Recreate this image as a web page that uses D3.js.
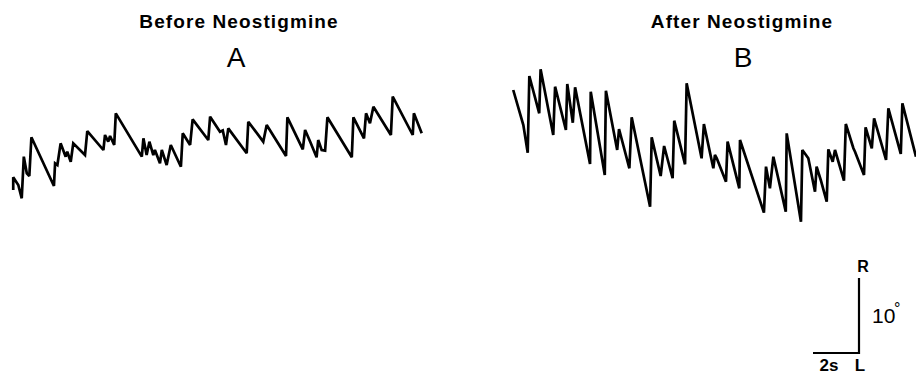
<!DOCTYPE html>
<html>
<head>
<meta charset="utf-8">
<script src="https://cdn.jsdelivr.net/npm/d3@7"></script>
<style>
  body { margin: 0; background: #fff; }
  svg { display: block; font-family: "Liberation Sans", Arial, sans-serif; }
</style>
</head>
<body>
<div id="chart"></div>
<script>
// eye position traces: time (s) and position (deg, right = up)
const timeA = [0.01, 0.01, 0.23, 0.38, 0.47, 0.60, 0.71, 0.80, 1.78, 1.83, 1.93, 2.07, 2.29, 2.36, 2.51, 2.62,
  3.13, 3.23, 3.93, 4.00, 4.14, 4.22, 4.40, 4.47, 5.60, 5.67, 5.81, 5.93, 6.10, 6.17, 6.39, 6.47,
  6.68, 6.86, 7.30, 7.38, 7.70, 7.81, 8.49, 8.57, 9.00, 9.12, 9.26, 9.36, 10.16, 10.23, 10.88, 11.03,
  11.87, 11.93, 12.60, 12.70, 12.94, 13.20, 13.27, 13.42, 13.57, 13.67, 14.73, 14.80, 15.26, 15.35,
  15.52, 15.67, 16.43, 16.51, 17.38, 17.43, 17.77];
const posA = [-5.33, -3.64, -4.67, -6.44, -0.89, -3.11, -3.47, 1.70, -4.80, -1.77, -2.00, 0.89, -0.89, -0.23, -1.56, 0.89,
  -0.67, 2.53, 0.00, 2.00, 1.11, 1.87, 0.67, 4.89, -0.89, 1.56, -0.67, 1.11, -0.67, 0.00, -1.77, 0.00,
  -2.00, 0.67, -2.23, 2.23, 0.67, 4.09, 1.33, 4.44, 2.44, 2.60, 0.67, 2.89, -0.44, 3.77, 1.11, 3.33,
  -0.80, 4.36, 0.09, 2.67, 0.97, -0.97, 1.33, 0.00, -0.09, 4.36, -0.97, 4.36, 1.56, 4.89,
  3.56, 5.77, 2.00, 7.11, 2.00, 4.89, 2.23];

const timeB = [0.01, 0.45, 0.64, 0.71, 1.14, 1.20, 1.75, 1.83, 2.30, 2.36, 2.60, 2.70, 3.35, 3.38, 3.99,
  4.04, 4.53, 4.61, 5.06, 5.16, 5.96, 6.03, 6.42, 6.57, 6.94, 7.01, 7.48, 7.55, 8.20, 8.30, 8.71,
  8.78, 8.86, 9.26, 9.33, 9.84, 9.87, 10.91, 11.00, 11.17, 11.32, 11.86, 11.90, 12.52, 12.58, 12.84,
  13.13, 13.20, 13.38, 13.64, 13.71, 13.90, 14.00, 14.39, 14.47, 14.80, 14.87, 15.26, 15.33, 15.60,
  15.70, 16.22, 16.32, 16.86, 16.93, 17.52];
const posB = [8.00, 3.33, -0.36, 9.87, 4.89, 10.76, 2.00, 8.44, 2.67, 8.80, 3.64, 8.36, -1.87, 7.77, -3.33,
  7.91, 0.00, 2.80, -2.44, 4.36, -7.56, 1.69, -3.47, 0.53, -3.77, 3.91, -1.91, 8.89, -1.11, 3.47, -2.44,
  -0.67, -1.11, -4.22, 1.11, -5.11, 1.33, -8.36, -2.22, -5.11, -0.89, -8.22, 2.22, -9.56, 0.00, -1.11,
  -5.56, -2.22, -4.00, -6.89, 0.09, -1.56, 0.00, -4.09, 3.47, 0.23, -0.23, -3.33, 3.03, 0.23,
  4.23, -1.33, 5.56, -0.53, 6.23, -0.89];

const panels = [
  { title: "Before Neostigmine", letter: "A", time: timeA, pos: posA, left: 13 },
  { title: "After Neostigmine", letter: "B", time: timeB, pos: posB, left: 513 }
];

// calibration bar: 2 s by 10 deg
const barSeconds = 2;
const barDegrees = 10;

const W = 916, H = 386;
const pxPerSecond = 23;

const svg = d3.select("#chart").append("svg")
  .attr("width", W)
  .attr("height", H);

const y = d3.scaleLinear().domain([-10, 10]).range([225, 75]);

panels.forEach(function (p, i) {
  const x = d3.scaleLinear().domain([0, 18]).range([p.left, p.left + 18 * pxPerSecond]);
  const pts = p.time.map((t, j) => [t, p.pos[j]]);

  const line = d3.line()
    .x(d => x(d[0]))
    .y(d => y(d[1]));

  svg.append("path")
    .datum(pts)
    .attr("d", line)
    .attr("fill", "none")
    .attr("stroke", "#000")
    .attr("stroke-width", 2.7)
    .attr("stroke-linejoin", "miter")
    .attr("stroke-miterlimit", 2.5);

  const cx = i === 0 ? 239 : 742;
  svg.append("text")
    .attr("x", cx)
    .attr("y", 28)
    .attr("text-anchor", "middle")
    .attr("font-size", 19)
    .attr("font-weight", "bold")
    .attr("letter-spacing", 1.1)
    .text(p.title);

  svg.append("text")
    .attr("x", i === 0 ? 236 : 743)
    .attr("y", 67)
    .attr("text-anchor", "middle")
    .attr("font-size", 28)
    .text(p.letter);
});

// scale bar, lengths taken from the same scales
const xs = d3.scaleLinear().domain([0, 1]).range([0, pxPerSecond]);
const corner = [859, 353];
const barW = xs(barSeconds) - xs(0);
const barH = y(0) - y(barDegrees);

const bar = svg.append("g");
bar.append("path")
  .attr("d", `M${corner[0] - barW},${corner[1]}H${corner[0]}V${corner[1] - barH}`)
  .attr("fill", "none")
  .attr("stroke", "#000")
  .attr("stroke-width", 2.2);

bar.append("text")
  .attr("x", corner[0] + 4)
  .attr("y", corner[1] - barH - 6)
  .attr("text-anchor", "middle")
  .attr("font-size", 16)
  .attr("font-weight", "bold")
  .text("R");

bar.append("text")
  .attr("x", corner[0] + 13)
  .attr("y", corner[1] - 30)
  .attr("font-size", 21)
  .text("10");

bar.append("text")
  .attr("x", corner[0] + 35)
  .attr("y", corner[1] - 39)
  .attr("font-size", 16)
  .text("°");

bar.append("text")
  .attr("x", corner[0] - 30)
  .attr("y", 371)
  .attr("text-anchor", "middle")
  .attr("font-size", 17)
  .attr("font-weight", "bold")
  .text("2s");

bar.append("text")
  .attr("x", corner[0] + 1)
  .attr("y", 371)
  .attr("text-anchor", "middle")
  .attr("font-size", 17)
  .attr("font-weight", "bold")
  .text("L");
</script>
</body>
</html>
